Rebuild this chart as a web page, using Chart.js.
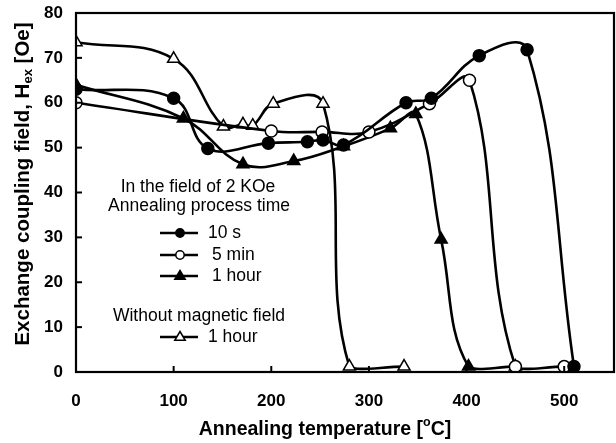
<!DOCTYPE html>
<html>
<head>
<meta charset="utf-8">
<script src="https://cdn.jsdelivr.net/npm/chart.js@4.4.0/dist/chart.umd.min.js"></script>
<style>
html,body{margin:0;padding:0;background:#fff;}
#wrap{width:616px;height:443px;position:relative;}
</style>
</head>
<body>
<div id="wrap"><canvas id="c" width="616" height="443"></canvas></div>
<script>
// ---- data ----
const temps10s   = [0, 100, 135, 197, 237, 253, 274, 338, 364, 413, 462, 510];
const hex10s     = [63, 61, 49.8, 51, 51.3, 51.7, 50.6, 60, 61, 70.5, 71.8, 1.2];

const temps5min  = [0, 200, 252, 300, 362, 403, 450, 500];
const hex5min    = [60, 53.7, 53.5, 53.5, 59.8, 65, 1.2, 1.2];

const temps1h    = [0, 110, 171, 223, 274, 322, 348, 374, 402, 450];
const hex1h      = [64, 56.5, 46.3, 47, 50.3, 54.3, 57.5, 29.5, 1.2, 1.2];

const tempsNoField = [0, 100, 151, 171, 181, 202, 253, 280, 336];
const hexNoField   = [73.5, 69.8, 54.7, 55.2, 54.9, 59.8, 59.8, 1.2, 1.2];

const xTicks = [0, 100, 200, 300, 400, 500];
const yTicks = [0, 10, 20, 30, 40, 50, 60, 70, 80];

const legendHeader = ["In the field of 2 KOe", "Annealing process time"];
const legendItems  = ["10 s", "5 min", "1 hour"];
const legendHeader2 = "Without magnetic field";
const legendItem2  = "1 hour";

const xTitleMain = "Annealing temperature [";
const xTitleSup = "o";
const xTitleEnd = "C]";
const yTitleMain = "Exchange coupling field, H";
const yTitleSub = "ex";
const yTitleEnd = " [Oe]";

function pts(xs, ys){ return xs.map((x,i)=>({x:x, y:ys[i]})); }

const FONT = "'Liberation Sans', Arial, sans-serif";

function mkDs(label, data, style, fill){
  return {
    label: label,
    data: data,
    borderColor: '#000',
    borderWidth: 2.6,
    pointStyle: style,
    pointRadius: style === 'triangle' ? 7 : 6,
    pointBackgroundColor: fill,
    pointBorderColor: '#000',
    pointBorderWidth: 1.5,
    tension: 0.4,
    fill: false
  };
}

function drawTitle(ctx, parts, bf, sf, x0, y, subShift, supShift){
  // parts: [main, small, end]
  ctx.font = 'bold ' + bf + 'px ' + FONT;
  const w1 = ctx.measureText(parts[0]).width;
  ctx.font = 'bold ' + sf + 'px ' + FONT;
  const w2 = ctx.measureText(parts[1]).width;
  ctx.font = 'bold ' + bf + 'px ' + FONT;
  const w3 = ctx.measureText(parts[2]).width;
  let s = x0 - (w1 + w2 + w3) / 2;
  ctx.fillText(parts[0], s, y);
  ctx.font = 'bold ' + sf + 'px ' + FONT;
  ctx.fillText(parts[1], s + w1, y + subShift);
  ctx.font = 'bold ' + bf + 'px ' + FONT;
  ctx.fillText(parts[2], s + w1 + w2, y);
}

const decor = {
  id: 'decor',
  afterDraw(chart){
    const ctx = chart.ctx;
    const a = chart.chartArea;
    const xs = chart.scales.x, ys = chart.scales.y;
    ctx.save();
    // frame
    ctx.strokeStyle = '#000';
    ctx.lineWidth = 2.2;
    ctx.strokeRect(a.left, a.top, a.right - a.left, a.bottom - a.top);
    // inward ticks
    ctx.lineWidth = 2;
    yTicks.forEach(v=>{
      const y = ys.getPixelForValue(v);
      ctx.beginPath(); ctx.moveTo(a.left, y); ctx.lineTo(a.left + 6, y); ctx.stroke();
    });
    xTicks.forEach(v=>{
      const x = xs.getPixelForValue(v);
      ctx.beginPath(); ctx.moveTo(x, a.bottom); ctx.lineTo(x, a.bottom - 6); ctx.stroke();
    });

    // legend
    ctx.fillStyle = '#000';
    ctx.font = '17.5px ' + FONT;
    ctx.textBaseline = 'middle';
    ctx.textAlign = 'center';
    ctx.fillText(legendHeader[0], 198, 187);
    ctx.fillText(legendHeader[1], 199, 206);
    ctx.fillText(legendHeader2, 199, 316);
    const rows = [233, 255, 276];
    const styles = [['circle','#000'],['circle','#fff'],['triangle','#000']];
    ctx.textAlign = 'left';
    function sample(y, style, fill){
      ctx.strokeStyle = '#000';
      ctx.lineWidth = 2.5;
      ctx.beginPath(); ctx.moveTo(160, y); ctx.lineTo(198, y); ctx.stroke();
      ctx.lineWidth = 1.5;
      ctx.fillStyle = fill;
      ctx.beginPath();
      if (style === 'circle') {
        ctx.arc(180, y, 4.2, 0, Math.PI*2);
      } else {
        const r = 5.5;
        ctx.moveTo(180, y - r);
        ctx.lineTo(180 + r*0.95, y + r*0.6);
        ctx.lineTo(180 - r*0.95, y + r*0.6);
        ctx.closePath();
      }
      ctx.fill(); ctx.stroke();
      ctx.fillStyle = '#000';
    }
    legendItems.forEach((t,i)=>{
      sample(rows[i], styles[i][0], styles[i][1]);
      ctx.fillText(t, i === 0 ? 208 : 212, rows[i]);
    });
    sample(337, 'triangle', '#fff');
    ctx.fillText(legendItem2, 208, 337);

    // x title
    ctx.textAlign = 'left';
    drawTitle(ctx, [xTitleMain, xTitleSup, xTitleEnd], 19.5, 12.5, 325, 430, -7);

    // y title (rotated)
    ctx.save();
    ctx.translate(23, 184);
    ctx.rotate(-Math.PI/2);
    drawTitle(ctx, [yTitleMain, yTitleSub, yTitleEnd], 20.5, 13, 0, 0, 5);
    ctx.restore();

    ctx.restore();
  }
};

new Chart(document.getElementById('c'), {
  type: 'line',
  data: {
    datasets: [
      mkDs('10 s', pts(temps10s, hex10s), 'circle', '#000'),
      mkDs('5 min', pts(temps5min, hex5min), 'circle', '#fff'),
      mkDs('1 hour', pts(temps1h, hex1h), 'triangle', '#000'),
      mkDs('1 hour (no field)', pts(tempsNoField, hexNoField), 'triangle', '#fff')
    ]
  },
  options: {
    responsive: false,
    animation: false,
    devicePixelRatio: 1,
    layout: { autoPadding: false, padding: { left: 0, right: 2, top: 13, bottom: 0 } },
    plugins: { legend: { display: false }, tooltip: { enabled: false }, title: { display: false } },
    scales: {
      x: {
        type: 'linear', min: 0, max: 551,
        afterBuildTicks(s){ s.ticks = xTicks.map(v=>({value:v})); },
        afterFit(s){ s.height = 71; s.paddingLeft = 0; s.paddingRight = 0; },
        grid: { display: false, drawTicks: false },
        border: { display: false },
        ticks: { color: '#000', font: { family: FONT, size: 17, weight: 'bold' }, padding: 19, maxRotation: 0 }
      },
      y: {
        type: 'linear', min: 0, max: 80,
        afterBuildTicks(s){ s.ticks = yTicks.map(v=>({value:v})); },
        afterFit(s){ s.width = 76; s.paddingTop = 0; s.paddingBottom = 0; },
        grid: { display: false, drawTicks: false },
        border: { display: false },
        ticks: { color: '#000', font: { family: FONT, size: 17, weight: 'bold' }, padding: 13 }
      }
    }
  },
  plugins: [decor]
});
</script>
</body>
</html>
